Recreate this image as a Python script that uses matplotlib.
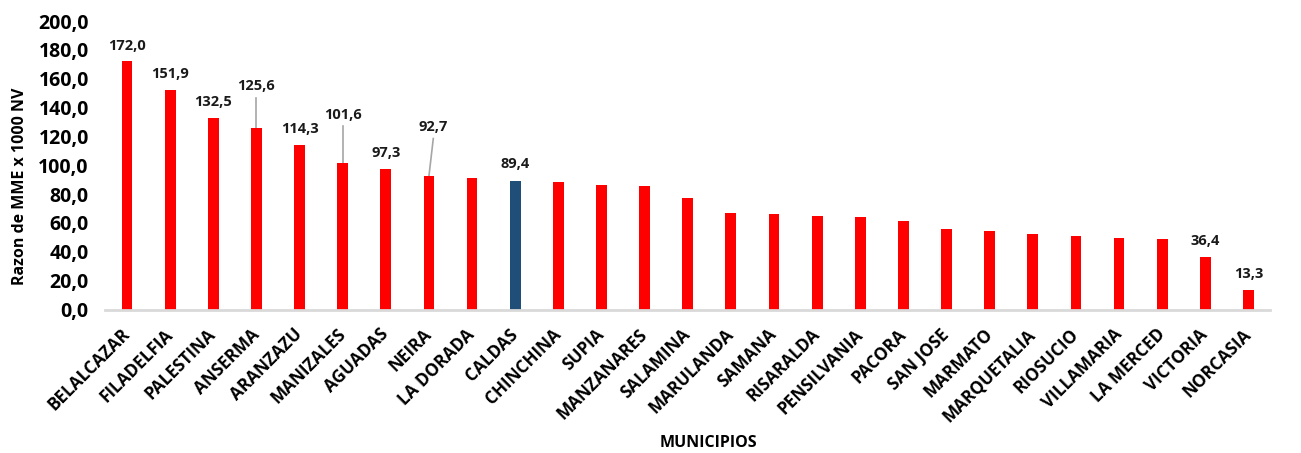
import numpy as np
import matplotlib
matplotlib.use("Agg")
import matplotlib.pyplot as plt
import matplotlib.transforms as mtransforms
from matplotlib.ticker import FuncFormatter, MultipleLocator

# datos
municipios = ["BELALCAZAR", "FILADELFIA", "PALESTINA", "ANSERMA", "ARANZAZU",
              "MANIZALES", "AGUADAS", "NEIRA", "LA DORADA", "CALDAS", "CHINCHINA",
              "SUPIA", "MANZANARES", "SALAMINA", "MARULANDA", "SAMANA", "RISARALDA",
              "PENSILVANIA", "PACORA", "SAN JOSE", "MARMATO", "MARQUETALIA",
              "RIOSUCIO", "VILLAMARIA", "LA MERCED", "VICTORIA", "NORCASIA"]
razon = [172.0, 151.9, 132.5, 125.6, 114.3, 101.6, 97.3, 92.7, 91.3, 89.4, 88.3,
         86.0, 85.4, 77.1, 66.7, 66.2, 65.0, 64.3, 61.4, 55.6, 54.4, 52.4,
         50.8, 49.4, 48.9, 36.4, 13.3]
# municipios con etiqueta de valor
etiquetados = ["BELALCAZAR", "FILADELFIA", "PALESTINA", "ANSERMA", "ARANZAZU",
               "MANIZALES", "AGUADAS", "NEIRA", "CALDAS", "VICTORIA", "NORCASIA"]

# altura de la etiqueta sobre la barra (y si lleva linea guia)
alto_etiqueta = {"BELALCAZAR": 10.6, "FILADELFIA": 11.1, "PALESTINA": 11.3,
                 "ANSERMA": 29.1, "ARANZAZU": 11.1, "MANIZALES": 33.5,
                 "AGUADAS": 11.2, "NEIRA": 33.8, "CALDAS": 11.3,
                 "VICTORIA": 11.2, "NORCASIA": 11.3}
con_linea = {"ANSERMA", "MANIZALES", "NEIRA"}

plt.rcParams['font.family'] = ['Open Sans', 'DejaVu Sans']

fig = plt.figure(figsize=(13.01, 4.53), dpi=100)
ax = fig.add_axes([105.5 / 1301, 1 - 309.5 / 453, (1270 - 105.5) / 1301, (309.5 - 21) / 453])

x = np.arange(len(municipios))
colores = ["#1F4E79" if m == "CALDAS" else "#FF0000" for m in municipios]
ax.bar(x, razon, width=0.25, color=colores, zorder=2)

for m in etiquetados:
    i = municipios.index(m)
    v = razon[i]
    ty = v + alto_etiqueta[m]
    dx = 0.1 if m == "NEIRA" else 0.0
    ax.text(i + dx, ty, f"{v:.1f}".replace(".", ","), ha="center", va="center",
            fontsize=10.5, fontweight="bold", color="#1a1a1a")
    if m in con_linea:
        ax.plot([i + dx, i], [ty - 8.0, v], color="#a6a6a6", lw=1.2, zorder=1)

ax.set_xlim(-0.5, len(municipios) - 0.5)
ax.set_ylim(0, 200)
ax.yaxis.set_major_locator(MultipleLocator(20))
ax.yaxis.set_major_formatter(FuncFormatter(lambda v, p: f"{v:.1f}".replace(".", ",")))
ax.set_xticks(x)
ax.set_xticklabels(municipios, rotation=45, ha="right", va="center",
                   rotation_mode="anchor", fontsize=12.3, fontweight="bold")
desplaza = mtransforms.ScaledTranslation(4 / 100, 0, fig.dpi_scale_trans)
for lab in ax.get_xticklabels():
    lab.set_transform(lab.get_transform() + desplaza)
for lab in ax.get_yticklabels():
    lab.set_fontsize(14)
    lab.set_fontweight("bold")
ax.tick_params(axis="y", length=0, pad=12)
ax.tick_params(axis="x", length=0, pad=16)

for s in ["top", "right", "left"]:
    ax.spines[s].set_visible(False)
ax.spines["bottom"].set_color("#d9d9d9")
ax.spines["bottom"].set_linewidth(2)

ax.set_ylabel("Razon de MME x 1000 NV", fontsize=11.5, fontweight="bold")
ax.set_xlabel("MUNICIPIOS", fontsize=11.5, fontweight="bold", va="center")
ax.yaxis.set_label_coords(-0.0665, 0.428)
ax.xaxis.set_label_coords(0.518, -0.462)

fig.savefig("out.png", dpi=100)
